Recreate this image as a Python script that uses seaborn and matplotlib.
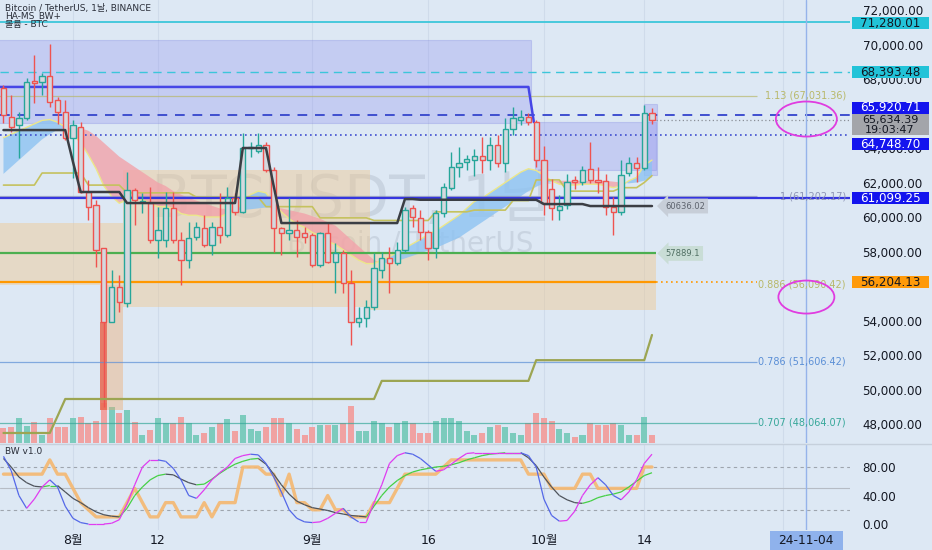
import matplotlib
matplotlib.use("Agg")
import numpy as np
import pandas as pd
import matplotlib.pyplot as plt
from matplotlib.patches import Ellipse, Rectangle
from matplotlib.lines import Line2D
from matplotlib.collections import LineCollection
import seaborn as sns

sns.set_theme(style="white")
plt.rcParams['font.family'] = ['DejaVu Sans', 'Noto Sans CJK KR']
plt.rcParams['axes.unicode_minus'] = False

# ---------------- data ----------------
start_date = pd.Timestamp("2024-07-23")
dates = pd.date_range(start_date, periods=85, freq="D")

opens = [67460, 65810, 65330, 65740, 67870, 67830, 68170, 66780, 66090, 64580,
         65220, 61450, 60700, 58200, 53910, 55940, 55020, 61570, 60870, 60810,
         58670, 58670, 60520, 58670, 57510, 58840, 59360, 58380, 59420, 58960,
         61100, 60290, 64000, 63830, 64170, 62730, 59360, 59070, 59250, 59070,
         58960, 57220, 59070, 57390, 57910, 56180, 53910, 54150, 54780, 56930,
         57620, 57330, 58090, 60520, 59940, 59130, 58200, 60230, 61680, 62900,
         63190, 63310, 63540, 63310, 64170, 63130, 65100, 65620, 65800, 65510,
         63300, 61600, 60400, 60700, 62150, 62050, 62780, 62150, 62100, 60600,
         60300, 62550, 63150, 62850, 66050]
highs = [67650, 67070, 66090, 68060, 69390, 68350, 70030, 66960, 66780, 65620,
         65510, 62150, 60990, 58200, 56930, 56640, 62610, 61680, 61390, 61740,
         60580, 61450, 61450, 59130, 59710, 59710, 60120, 59710, 61390, 61740,
         61390, 64870, 64350, 64870, 64350, 62900, 59420, 61100, 59830, 59420,
         59070, 59130, 59710, 58490, 58090, 56930, 54780, 55190, 57910, 57970,
         58260, 58550, 60580, 60700, 60410, 59250, 60410, 61970, 63770, 64060,
         63600, 63940, 64640, 64640, 64750, 65740, 66380, 66200, 66030, 65620,
         64100, 62200, 61300, 62500, 62350, 62950, 64350, 62900, 62500, 61150,
         63300, 63450, 63450, 66500, 66300]
lows = [65450, 64930, 63420, 65600, 66610, 67070, 66380, 65390, 64460, 62260,
        61390, 59830, 57100, 48990, 53910, 54490, 54780, 59540, 60230, 58490,
        57620, 58260, 58490, 56060, 57040, 58670, 58260, 57800, 58490, 58840,
        60120, 60230, 63480, 63710, 62610, 57970, 57800, 58670, 57680, 58490,
        57100, 57100, 57330, 55600, 55600, 52580, 53620, 53620, 54610, 56460,
        55600, 57220, 57970, 59420, 58670, 57510, 57620, 60000, 61570, 62320,
        62730, 62380, 62550, 62730, 62900, 62610, 64750, 65330, 65330, 62900,
        60100, 59800, 59850, 60450, 61650, 61850, 61950, 61400, 60100, 58950,
        60100, 62350, 62050, 62750, 65400]
closes = [65910, 65240, 65740, 67840, 67780, 68170, 66670, 66090, 64580, 65330,
          61450, 60580, 58090, 53910, 55940, 55070, 61570, 60990, 60930, 58670,
          59250, 60520, 58670, 57510, 58780, 59420, 58380, 59420, 58960, 61100,
          60290, 64000, 64060, 64170, 62730, 59360, 59070, 59250, 58840, 58840,
          57220, 59070, 57390, 57910, 56180, 53910, 54150, 54780, 57040, 57620,
          57330, 58090, 60410, 60000, 59130, 58200, 60230, 61740, 62900, 63130,
          63360, 63540, 63310, 64170, 63130, 65100, 65740, 65800, 65510, 63300,
          60800, 60500, 60650, 62050, 62040, 62750, 62150, 62050, 60600, 60300,
          62450, 63150, 62850, 66050, 65634.39]
volumes_k = [75, 80, 125, 85, 105, 40, 125, 80, 80, 125,
             130, 100, 110, 200, 180, 150, 165, 105, 40, 65,
             125, 100, 100, 130, 100, 40, 50, 80, 100, 120,
             60, 140, 70, 60, 80, 125, 125, 100, 70, 40,
             80, 90, 90, 90, 100, 185, 60, 60, 110, 100,
             80, 100, 110, 100, 50, 50, 110, 125, 125, 110,
             60, 40, 50, 80, 90, 80, 50, 40, 100, 150,
             125, 110, 70, 50, 30, 40, 100, 90, 90, 100,
             90, 40, 40, 130, 40]

ema_fast = [64600, 64800, 65000, 65200, 65400, 65600, 65650, 65500, 65200, 64800,
            64300, 63600, 62800, 61800, 61200, 60800, 61000, 61100, 61000, 60800,
            60600, 60600, 60500, 60200, 60100, 60100, 60000, 60000, 60000, 60200,
            60300, 60900, 61300, 61500, 61400, 60800, 60300, 59900, 59600, 59400,
            59100, 58900, 58600, 58400, 58100, 57800, 57500, 57300, 57300, 57500,
            57700, 57950, 58200, 58450, 58700, 59000, 59200, 59500, 59800, 60100,
            60500, 60900, 61100, 61400, 61700, 62000, 62300, 62600, 62800, 62700,
            62400, 62100, 61900, 61850, 61850, 61900, 61900, 61900, 61800, 61700,
            61800, 62100, 62300, 63000, 63300]
ema_slow = [62500, 62900, 63300, 63700, 64100, 64500, 64800, 65050, 65150, 65200,
            65150, 65000, 64700, 64300, 63900, 63500, 63200, 62900, 62600, 62300,
            62000, 61800, 61500, 61300, 61100, 60950, 60800, 60650, 60500, 60450,
            60400, 60400, 60450, 60500, 60550, 60550, 60500, 60400, 60300, 60200,
            60050, 59900, 59700, 59500, 59100, 58700, 58300, 57900, 57500, 57350,
            57350, 57450, 57600, 57750, 57900, 58050, 58200, 58400, 58600, 58800,
            59100, 59400, 59700, 60000, 60300, 60600, 60900, 61200, 61500, 61750,
            61950, 62050, 62100, 62100, 62100, 62100, 62100, 62100, 62100, 62050,
            62000, 61950, 62000, 62100, 62300]

# step lines: (level, number of candles)
black_levels = [65040, 63200, 61450, 60810, 64000, 61800, 59650, 61040, 61000, 60750, 60636.02]
black_runs = [9, 1, 6, 15, 4, 1, 16, 2, 16, 6, 9]
olive_levels = [61850, 62550, 61850, 61400, 61150, 60600, 59950, 59800, 60300, 60400,
                60950, 62150, 61500, 61700, 62000, 62400]
olive_runs = [5, 6, 5, 9, 9, 7, 7, 8, 5, 5, 3, 4, 7, 3, 1, 1]
base_levels = [47480, 48450, 49450, 50500, 51700, 53160]
base_runs = [7, 1, 41, 20, 15, 1]

# BW oscillator
k_line = [95, 75, 40, 22, 35, 52, 62, 52, 25, 8, 2, 0, 0, 0, 1, 6, 28, 55, 80, 90,
          90, 88, 78, 62, 40, 36, 48, 62, 72, 80, 92, 96, 98, 97, 85, 66, 45, 20, 8, 3,
          2, 3, 8, 15, 22, 10, 3, 3, 30, 55, 85, 96, 100, 98, 92, 83, 74, 76, 84, 92,
          99, 100, 100, 100, 100, 100, 100, 100, 96, 80, 35, 12, 4, 5, 18, 40, 55, 65, 55, 40,
          34, 45, 62, 85, 98]
d_line = [92, 80, 66, 58, 53, 52, 54, 54, 45, 36, 30, 23, 17, 13, 11, 10, 22, 40, 52, 62,
          68, 70, 69, 63, 58, 55, 56, 63, 71, 78, 84, 88, 91, 92, 84, 70, 55, 42, 32, 27,
          23, 21, 19, 16, 14, 12, 11, 10, 25, 40, 52, 61, 68, 73, 76, 78, 80, 81, 83, 86,
          90, 93, 96, 98, 99, 100, 100, 100, 93, 82, 66, 52, 40, 34, 30, 29, 32, 37, 40, 42,
          45, 52, 60, 68, 72]
bw_orange = [70, 70, 70, 70, 70, 70, 90, 70, 70, 50, 30, 20, 10, 10, 10, 10, 30, 50, 30, 10,
             10, 30, 30, 10, 10, 10, 30, 10, 30, 30, 30, 80, 80, 80, 70, 70, 40, 70, 30, 30,
             20, 20, 40, 20, 20, 10, 10, 10, 30, 30, 30, 50, 70, 70, 70, 70, 70, 80, 90, 90,
             90, 90, 90, 90, 90, 90, 90, 90, 70, 70, 70, 50, 50, 50, 50, 70, 70, 50, 50, 50,
             50, 50, 50, 80, 80]

date_tick_labels = ["8월", "12", "9월", "16", "10월", "14"]
date_tick_dates = ["2024-08-01", "2024-08-12", "2024-09-01", "2024-09-16", "2024-10-01", "2024-10-14"]
grid_dates = date_tick_dates + ["2024-11-01"]
cursor_date = "2024-11-04"
cursor_label = "24-11-04"

price_ticks = [48000, 50000, 52000, 54000, 56000, 58000, 60000, 62000, 64000, 66000, 68000, 70000, 72000]
hidden_price_ticks = [56000, 66000]   # fully covered by price boxes in the reference
osc_ticks = [0, 40, 80]

level_cyan = 71280.01
level_cyan_dash = 68393.48
level_blue_dash = 65920.71
level_blue_dot = 64748.70
level_blue = 61099.25
level_orange = 56204.13
level_green = 57889.1
last_price = 65634.39
countdown = "19:03:47"
fib_ratios = ["1.13", "1", "0.886", "0.786", "0.707"]
fib_levels = [67031.36, 61202.17, 56090.42, 51606.42, 48064.07]
fib_colors = ['#b8b86a', '#8d94b6', '#b8b86a', '#5b8fd6', '#37a89a']

# zones: (x from, x to (candle index), price low, price high)
zones_purple = [(-1, 68.3, 65450, 70260), (68.8, 84.5, 62730, 65500), (83.0, 84.6, 62440, 66550)]
zones_tan = [(15.5, 47.5, 54780, 62730), (-1, 15.5, 56060, 59650), (47.5, 84.5, 54610, 57970)]
stripe_zone = (12.5, 15.5, 48810, 56060)
crash_zone = (12.55, 13.45, 48810, 53910)
resist_line_x = [-1, 68.0, 68.7]
resist_line_y = [67540, 67540, 65500]
ellipse_levels = [65680, 55360]

# ---------------- figure ----------------
BG = '#dde8f4'
W, H = 932, 550
PR = 850  # right edge of plotting area (px)
fig = plt.figure(figsize=(W / 100, H / 100), dpi=100, facecolor=BG)

main_rect = [0, (H - 443) / H, PR / W, 443 / H]
osc_rect = [0, (H - 530) / H, PR / W, 85 / H]
ax_vol = fig.add_axes(main_rect)
ax = fig.add_axes(main_rect)
ax2 = fig.add_axes(osc_rect)
ax_vol.set_facecolor(BG)
ax.set_facecolor('none')
ax2.set_facecolor(BG)

x = np.arange(len(opens))
o = np.array(opens, float); hi = np.array(highs, float)
lo = np.array(lows, float); c = np.array(closes, float)
up = c >= o
XL = (-0.45, 109.65)
for a in (ax, ax_vol, ax2):
    a.set_xlim(*XL)
    for s in a.spines.values():
        s.set_visible(False)

ax.set_ylim(46899, 72580)
ax2.set_ylim(-8.4, 110.9)
ax_vol.set_ylim(0, 2215)

def didx(d):
    return (pd.Timestamp(d) - start_date).days

# volume
ax_vol.bar(x, volumes_k, width=0.78, color=np.where(up, '#7ccbbd', '#f0a2a2'), linewidth=0)
ax_vol.set_xticks([]); ax_vol.set_yticks([])
for gd in grid_dates:
    ax_vol.axvline(didx(gd), color='#cfdbea', lw=0.8, zorder=0)

# watermark (under everything)
ax_vol.text(352 / W, 1 - 200 / H, "BTCUSDT, 1날", transform=fig.transFigure, fontsize=42,
            color='#7c8698', alpha=0.2, ha='center', va='center')
ax_vol.text(410 / W, 1 - 243 / H, "Bitcoin / TetherUS", transform=fig.transFigure, fontsize=20,
            color='#7c8698', alpha=0.2, ha='center', va='center')

# zones
for (x0, x1, p0, p1) in zones_purple:
    ax.add_patch(Rectangle((x0, p0), x1 - x0, p1 - p0, facecolor='#8c8cf0', alpha=0.3,
                           edgecolor='#8088e0', lw=0.8, zorder=1))
for (x0, x1, p0, p1) in zones_tan:
    ax.add_patch(Rectangle((x0, p0), x1 - x0, p1 - p0, facecolor='#f0c890', alpha=0.45,
                           edgecolor='none', zorder=1))
ax.add_patch(Rectangle((stripe_zone[0], stripe_zone[2]), stripe_zone[1] - stripe_zone[0],
                       stripe_zone[3] - stripe_zone[2], facecolor='#f0a868', alpha=0.4, lw=0, zorder=1))
ax.add_patch(Rectangle((crash_zone[0], crash_zone[2]), crash_zone[1] - crash_zone[0],
                       crash_zone[3] - crash_zone[2], facecolor='#e8604c', alpha=0.75, lw=0, zorder=1.5))

# ribbon
fast = np.array(ema_fast, float); slow = np.array(ema_slow, float)
ax.fill_between(x, fast, slow, where=fast >= slow, interpolate=True, color='#8ec3f2', alpha=0.8, lw=0, zorder=2)
ax.fill_between(x, fast, slow, where=fast < slow, interpolate=True, color='#f2a2aa', alpha=0.8, lw=0, zorder=2)
sns.lineplot(x=x, y=fast, ax=ax, color='#ece78a', lw=1.0, zorder=3, legend=False)

# full width horizontal levels
ax.axhline(level_cyan, color='#3cc6da', lw=1.3, zorder=3)
ax.axhline(level_cyan_dash, color='#3cc6da', lw=1.0, ls=(0, (6, 4)), zorder=3)
ax.axhline(level_blue_dash, color='#3f4fcf', lw=1.4, ls=(0, (5, 4)), zorder=3)
ax.axhline(level_blue_dot, color='#3f4fcf', lw=1.2, ls=(0, (1, 2)), zorder=3)
ax.hlines(last_price, 84.5, XL[1], color='#8a8f98', lw=0.9, ls=(0, (1, 2)), zorder=3)

# fib levels
for r, lv, col in zip(fib_ratios, fib_levels, fib_colors):
    if r != "0.886":
        ax.hlines(lv, -1, 97.6, color=col, lw=0.9, alpha=0.7, zorder=3)
    ax.text(109.1, lv, f"{r} ({lv:,.2f})", ha='right', va='center', fontsize=7, color=col, zorder=7)
ax.axhline(level_blue, color='#3535e0', lw=1.6, zorder=3.5)

# green / orange levels
ax.hlines(level_green, -1, 84.5, color='#4caf50', lw=1.6, zorder=3.5)
ax.hlines(level_orange, -1, 84.5, color='#ff9800', lw=1.6, zorder=3.5)
ax.hlines(level_orange, 84.5, 97.6, color='#ff9800', lw=1.2, ls=(0, (1, 2)), zorder=3.5)

# resistance line
sns.lineplot(x=resist_line_x, y=resist_line_y, ax=ax, color='#4646e6', lw=1.8, zorder=3.5,
             sort=False, legend=False)

# step lines
sns.lineplot(x=x, y=np.repeat(olive_levels, olive_runs), ax=ax, color='#c5c25e', lw=1.2, zorder=3, legend=False)
sns.lineplot(x=x, y=np.repeat(base_levels, base_runs), ax=ax, color='#9ca552', lw=1.6, zorder=6, legend=False)

# candles
edge = np.where(up, '#26a69a', '#ef5350')
ax.vlines(x, lo, hi, colors=edge, lw=1.0, zorder=4)
ax.bar(x, np.maximum(np.abs(c - o), 60), bottom=np.minimum(o, c), width=0.68,
       color='#d4d8de', edgecolor=edge, linewidth=1.0, zorder=5)

sns.lineplot(x=x, y=np.repeat(black_levels, black_runs), ax=ax, color='#3b3e44', lw=1.8, zorder=6, legend=False)

# tags
ax.text(88.3, black_levels[-1], f"{black_levels[-1]:.2f}", ha='center', va='center', fontsize=6,
        color='#5d636d', zorder=7, bbox=dict(boxstyle='larrow,pad=0.35', fc='#c7ced8', ec='none'))
ax.text(88.0, level_green, f"{level_green}", ha='center', va='center', fontsize=6,
        color='#4f6e62', zorder=7, bbox=dict(boxstyle='larrow,pad=0.35', fc='#c9ddd6', ec='none'))

# cursor + ellipses
cur = didx(cursor_date)
ax.axvline(cur, color='#95b3ea', lw=1.0, zorder=3)
ax2.axvline(cur, color='#95b3ea', lw=1.0, zorder=3)
for gd in grid_dates:
    ax2.axvline(didx(gd), color='#cfdbea', lw=0.8, zorder=0)
ax.add_patch(Ellipse((cur, ellipse_levels[0]), 7.9, 2030, facecolor='none', edgecolor='#e03ce0', lw=1.3, zorder=8))
ax.add_patch(Ellipse((cur, ellipse_levels[1]), 7.25, 1913, facecolor='none', edgecolor='#e03ce0', lw=1.3, zorder=8))

# price axis
ax.yaxis.tick_right()
ax.set_yticks(price_ticks)
ax.set_yticklabels(["" if v in hidden_price_ticks else f"{v:,.2f}" for v in price_ticks])
ax.tick_params(axis='y', length=0, pad=9, labelsize=8.6, labelcolor='#131722')
ax.set_xticks([])

# oscillator
ax2.axhline(80, color='#9ea5ae', lw=0.8, ls=(0, (3, 3)))
ax2.axhline(20, color='#9ea5ae', lw=0.8, ls=(0, (3, 3)))
ax2.axhline(50, color='#b6bcc5', lw=0.8)
kk = np.array(k_line, float); dd = np.array(d_line, float)
def seg_lines(vals, c_up, c_dn, lw):
    segs = [[(i, vals[i]), (i + 1, vals[i + 1])] for i in range(len(vals) - 1)]
    cols = [c_up if vals[i + 1] >= vals[i] else c_dn for i in range(len(vals) - 1)]
    return LineCollection(segs, colors=cols, linewidths=lw, zorder=4)
sns.lineplot(x=x, y=bw_orange, ax=ax2, color='#f5b870', lw=2.4, alpha=0.9, zorder=3, legend=False)
ax2.add_collection(seg_lines(dd, '#45d045', '#4f545c', 0.9))
ax2.add_collection(seg_lines(kk, '#e03cf0', '#5468e8', 0.9))
ax2.yaxis.tick_right()
ax2.set_yticks(osc_ticks)
ax2.set_yticklabels([f"{v:.2f}" for v in osc_ticks])
ax2.tick_params(axis='y', length=0, pad=9, labelsize=8.6, labelcolor='#131722')
ax2.set_xticks([didx(d) for d in date_tick_dates])
ax2.set_xticklabels(date_tick_labels)
ax2.tick_params(axis='x', length=0, pad=3, labelsize=9, labelcolor='#131722')
ax2.set_xlabel(''); ax2.set_ylabel(''); ax.set_xlabel(''); ax.set_ylabel('')

# pane separator
fig.add_artist(Line2D([0, 1], [1 - 444 / H] * 2, transform=fig.transFigure, color='#c6d0dc', lw=1))

# price label boxes on the scale
def py_of(price):
    return H - ax.transData.transform((0, price))[1]

def price_box(text, price, bg, fg, dy=0, h=12, fs=8.6):
    yc = py_of(price) - dy
    fig.patches.append(Rectangle((852 / W, 1 - (yc + h / 2) / H), 77 / W, h / H,
                                 transform=fig.transFigure, facecolor=bg, edgecolor='none', zorder=5))
    fig.text(890 / W, 1 - yc / H, text, ha='center', va='center', fontsize=fs, color=fg,
             zorder=6, linespacing=0.95)

price_box(f"{level_cyan:,.2f}", level_cyan, '#22c3d8', '#131722', dy=-1)
price_box(f"{level_cyan_dash:,.2f}", level_cyan_dash, '#22c3d8', '#131722')
price_box(f"{level_blue_dash:,.2f}", level_blue_dash, '#1414ee', 'white', dy=7)
price_box(f"{last_price:,.2f}\n{countdown}", last_price, '#a3a5aa', '#131722', dy=-5, h=21, fs=8.0)
price_box(f"{level_blue_dot:,.2f}", level_blue_dot, '#1414ee', 'white', dy=-9)
price_box(f"{level_blue:,.2f}", level_blue, '#1414ee', 'white')
price_box(f"{level_orange:,.2f}", level_orange, '#ff9a0a', '#131722')

# date cursor label
fig.patches.append(Rectangle((770 / W, 0), 73 / W, 19 / H, transform=fig.transFigure,
                             facecolor='#8fb2ec', edgecolor='none', zorder=5))
fig.text(806 / W, 1 - 540 / H, cursor_label, ha='center', va='center', fontsize=8.8,
         color='#131722', zorder=6)

# headers
fig.text(5 / W, 1 - 8 / H, "Bitcoin / TetherUS, 1날, BINANCE", fontsize=6.5, color='#2a2e39', va='center')
fig.text(5 / W, 1 - 16 / H, "HA-MS_BW+", fontsize=6.5, color='#2a2e39', va='center')
fig.text(5 / W, 1 - 24 / H, "볼륨 - BTC", fontsize=6.5, color='#2a2e39', va='center')
fig.text(5 / W, 1 - 451 / H, "BW v1.0", fontsize=6.5, color='#2a2e39', va='center')

fig.savefig("out.png", dpi=100, facecolor=BG)
